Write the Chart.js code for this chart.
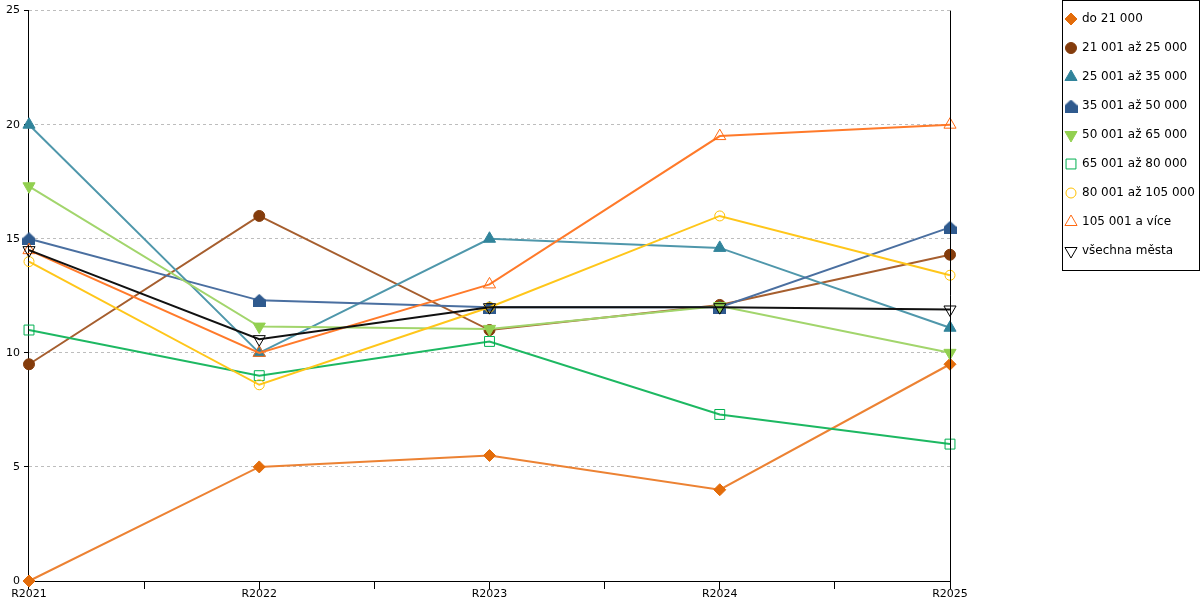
<!DOCTYPE html>
<html>
<head>
<meta charset="utf-8">
<script src="https://cdn.jsdelivr.net/npm/chart.js@4/dist/chart.umd.min.js"></script>
<style>
  html, body { margin: 0; padding: 0; background: #fff; }
  #wrap { width: 1200px; height: 600px; }
</style>
</head>
<body>
<div id="wrap"><canvas id="graf"></canvas></div>
<script>
// kategorie a hodnoty
const roky = ['R2021', 'R2022', 'R2023', 'R2024', 'R2025'];
const nazvy = ['do 21 000', '21 001 až 25 000', '25 001 až 35 000', '35 001 až 50 000',
    '50 001 až 65 000', '65 001 až 80 000', '80 001 až 105 000', '105 001 a více', 'všechna města'];
const do21 = [0, 5, 5.5, 4, 9.5];
const od21do25 = [9.5, 16, 11, 12.1, 14.3];
const od25do35 = [20, 10, 15, 14.6, 11.1];
const od35do50 = [15, 12.3, 12, 12, 15.5];
const od50do65 = [17.3, 11.15, 11.05, 12.05, 10];
const od65do80 = [11, 9, 10.5, 7.3, 6];
const od80do105 = [14, 8.6, 12, 16, 13.4];
const nad105 = [14.5, 10, 13, 19.5, 20];
const vsechna = [14.5, 10.6, 12, 12, 11.9];
const osaY = [0, 5, 10, 15, 20, 25];

// znacka "domecek" pro 35 001 az 50 000
function domecek(barva) {
    const c = document.createElement('canvas');
    c.width = 13; c.height = 13;
    const g = c.getContext('2d');
    g.fillStyle = barva;
    g.beginPath();
    g.moveTo(6.5, 0);
    g.lineTo(13, 6);
    g.lineTo(13, 13);
    g.lineTo(0, 13);
    g.lineTo(0, 6);
    g.closePath();
    g.fill();
    return c;
}

const pruhledna = 'rgba(0,0,0,0)';
const rady = [
    { data: do21, line: '#EC8233', fill: '#E36C0A', stroke: '#E36C0A', style: 'rectRot', r: 6, rot: 0 },
    { data: od21do25, line: '#A65E2E', fill: '#843C0C', stroke: '#843C0C', style: 'circle', r: 5.5, rot: 0 },
    { data: od25do35, line: '#4F97AB', fill: '#31849B', stroke: '#31849B', style: 'triangle', r: 7, rot: 0 },
    { data: od35do50, line: '#4A6FA0', fill: '#2F5A8E', stroke: '#2F5A8E', style: domecek('#2F5A8E'), r: 6, rot: 0 },
    { data: od50do65, line: '#A2D56C', fill: '#92D050', stroke: '#92D050', style: 'triangle', r: 7, rot: 180 },
    { data: od65do80, line: '#1DB862', fill: pruhledna, stroke: '#00B050', style: 'rect', r: 7, rot: 0 },
    { data: od80do105, line: '#FFC61A', fill: pruhledna, stroke: '#FFC000', style: 'circle', r: 5, rot: 0 },
    { data: nad105, line: '#FF7A2A', fill: pruhledna, stroke: '#FF6A13', style: 'triangle', r: 7, rot: 0 },
    { data: vsechna, line: '#111111', fill: pruhledna, stroke: '#000000', style: 'triangle', r: 7, rot: 180 }
];

const datasets = rady.map((s, i) => ({
    label: nazvy[i],
    data: s.data.map((v, j) => ({ x: j, y: v })),
    borderColor: s.line,
    borderWidth: 2,
    backgroundColor: s.fill,
    pointStyle: s.style,
    pointRadius: s.r,
    pointRotation: s.rot,
    pointBackgroundColor: s.fill,
    pointBorderColor: s.stroke,
    pointBorderWidth: 1,
    tension: 0,
    clip: false,
    order: rady.length - i
}));

// prava svisla cara a legenda v ramecku
const doplnky = {
    id: 'doplnky',
    afterDraw(chart) {
        const ctx = chart.ctx;
        const a = chart.chartArea;
        ctx.save();
        ctx.strokeStyle = '#000';
        ctx.lineWidth = 1;
        ctx.beginPath();
        ctx.moveTo(Math.round(a.right) + 0.5, a.top);
        ctx.lineTo(Math.round(a.right) + 0.5, a.bottom);
        ctx.stroke();

        ctx.strokeRect(1062.5, 0.5, 137, 270);
        ctx.font = '12px "DejaVu Sans"';
        ctx.textBaseline = 'middle';
        rady.forEach((s, i) => {
            const y = 19 + i * 29;
            ctx.fillStyle = s.fill;
            ctx.strokeStyle = s.stroke;
            Chart.helpers.drawPoint(ctx, {
                pointStyle: s.style, rotation: s.rot, radius: s.r, borderWidth: 1
            }, 1071, y);
            ctx.fillStyle = '#000';
            ctx.fillText(nazvy[i], 1082, y);
        });
        ctx.restore();
    }
};

new Chart(document.getElementById('graf').getContext('2d'), {
    type: 'line',
    data: { datasets: datasets },
    options: {
        responsive: true,
        maintainAspectRatio: false,
        animation: false,
        layout: { padding: { left: 2, right: 250, top: 4, bottom: 0 } },
        plugins: {
            legend: { display: false },
            tooltip: { enabled: false }
        },
        scales: {
            x: {
                type: 'linear',
                min: 0,
                max: roky.length - 1,
                ticks: {
                    stepSize: 0.5,
                    autoSkip: false,
                    maxRotation: 0,
                    padding: 0,
                    color: '#000',
                    font: { family: 'DejaVu Sans', size: 11, lineHeight: 1 },
                    callback: v => Number.isInteger(v) ? roky[v] : ''
                },
                grid: { drawOnChartArea: false, tickLength: 8, tickColor: '#000' },
                border: { color: '#000', width: 1 }
            },
            y: {
                min: osaY[0],
                max: osaY[osaY.length - 1],
                afterBuildTicks: axis => { axis.ticks = osaY.map(v => ({ value: v })); },
                ticks: {
                    padding: 4,
                    color: '#000',
                    font: { family: 'DejaVu Sans', size: 11 }
                },
                grid: { color: '#BDBDBD', tickLength: 5, tickColor: '#000' },
                border: { color: '#000', width: 1, dash: [3, 3] }
            }
        }
    },
    plugins: [doplnky]
});
</script>
</body>
</html>
